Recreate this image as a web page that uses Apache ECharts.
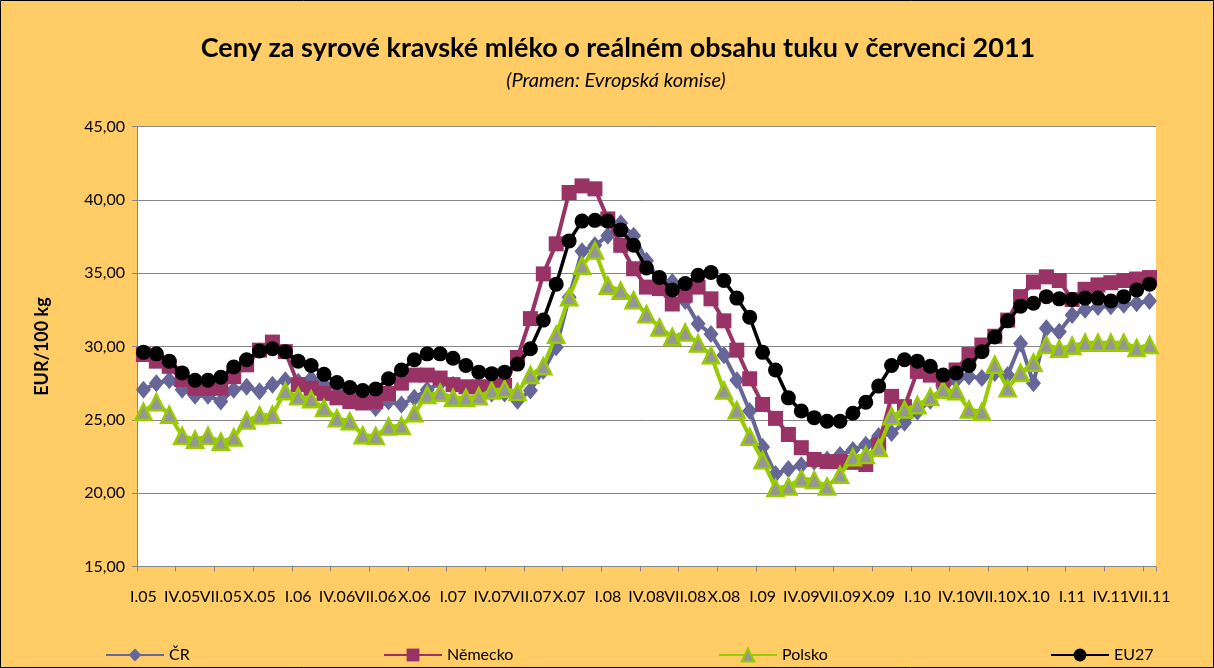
<!DOCTYPE html>
<html>
<head>
<meta charset="utf-8">
<script src="https://cdn.jsdelivr.net/npm/echarts@6/dist/echarts.min.js"></script>
<style>
html,body{margin:0;padding:0;background:#FFCC66;}
#c{width:1214px;height:668px;}
</style>
</head>
<body>
<div id="c"></div>
<script>
var MONTHS = ['I','II','III','IV','V','VI','VII','VIII','IX','X','XI','XII'];
var YEARS = ['05','06','07','08','09','10','11'];
var categories = [];
YEARS.forEach(function(y, yi){
  MONTHS.forEach(function(m, mi){
    if (yi < 6 || mi < 7) categories.push(m + '.' + y);
  });
});

var cr = [27.05,27.5,27.7,27.05,26.65,26.65,26.25,27.05,27.25,26.95,27.4,27.7,
27.6,27.8,27.4,27.25,26.8,26.35,25.8,26.25,26.05,26.5,27.05,27.5,
27.4,27.15,27.05,26.8,26.8,26.3,27.0,28.35,29.95,33.35,36.5,36.9,
37.55,38.4,37.55,35.85,34.5,34.4,33.1,31.55,30.85,29.4,27.7,25.6,
23.15,21.3,21.65,21.9,22.15,22.3,22.6,22.95,23.3,23.9,24.1,24.8,
25.55,26.3,27.15,27.7,27.95,27.85,28.2,28.05,30.2,27.5,31.25,31.0,
32.15,32.5,32.7,32.75,32.85,32.95,33.1];

var nemecko = [29.45,29.0,28.65,27.75,27.15,27.15,27.15,27.95,28.75,29.75,30.3,29.65,
27.4,27.15,26.8,26.5,26.25,26.15,26.25,26.8,27.5,28.05,28.05,27.85,
27.4,27.25,27.25,27.25,27.35,29.25,31.9,34.95,37.0,40.5,40.95,40.75,
38.7,36.9,35.3,34.05,33.95,32.9,33.5,34.05,33.25,31.75,29.75,27.8,
26.05,25.1,24.0,23.1,22.3,22.15,22.15,22.1,21.95,23.3,26.6,25.9,
28.3,28.05,27.75,28.4,29.45,30.1,30.7,31.8,33.4,34.4,34.75,34.5,
33.2,33.9,34.2,34.35,34.5,34.6,34.7];

var polsko = [25.55,26.2,25.35,23.9,23.65,23.9,23.5,23.8,24.95,25.3,25.35,26.95,
26.6,26.4,25.8,25.1,24.9,23.95,23.9,24.55,24.6,25.45,26.7,26.85,
26.5,26.5,26.6,27.0,27.1,26.9,28.05,28.65,30.8,33.35,35.5,36.55,
34.15,33.8,33.15,32.2,31.3,30.65,30.95,30.2,29.4,27.0,25.65,23.85,
22.25,20.35,20.45,21.0,20.9,20.45,21.25,22.45,22.6,23.1,25.25,25.7,
26.0,26.55,27.05,26.95,25.7,25.55,28.75,27.15,28.2,28.9,30.1,29.85,
30.05,30.25,30.25,30.25,30.25,29.9,30.1];

var eu27 = [29.6,29.5,29.0,28.2,27.7,27.7,27.9,28.6,29.1,29.7,29.85,29.65,
29.0,28.7,28.1,27.55,27.2,27.0,27.1,27.8,28.4,29.1,29.5,29.5,
29.2,28.7,28.25,28.15,28.25,28.8,29.85,31.8,34.25,37.2,38.55,38.6,
38.55,37.95,36.9,35.35,34.7,33.85,34.3,34.85,35.05,34.5,33.3,32.0,
29.6,28.4,26.5,25.6,25.15,24.9,24.9,25.45,26.2,27.3,28.7,29.1,
29.0,28.65,28.05,28.2,28.7,29.65,30.65,31.75,32.75,32.95,33.4,33.25,
33.2,33.3,33.3,33.1,33.4,33.85,34.25];

var seriesNames = ['ČR','Německo','Polsko','EU27'];

var FONT = 'Lato, "DejaVu Sans", sans-serif';
var LAST = categories.length - 1;
var chart = echarts.init(document.getElementById('c'), null, {renderer:'canvas'});

function legendAt(name, left){
  return {
    data:[name], left:left, top:642, itemWidth:58, itemHeight:16,
    textStyle:{fontFamily:FONT, fontSize:16, color:'#000'}, itemGap:4
  };
}
var labelStyle = {margin:22, fontFamily:FONT, fontSize:16, color:'#000', hideOverlap:false,
  showMaxLabel:true, showMinLabel:true};

chart.setOption({
  backgroundColor:'#FFCC66',
  animation:false,
  title:[
    {text:'Ceny za syrové kravské mléko o reálném obsahu tuku v červenci 2011',
     left:613, textAlign:'center', top:30,
     textStyle:{fontFamily:FONT, fontSize:27, fontWeight:'bold', color:'#000'}},
    {text:'(Pramen: Evropská komise)', left:611, textAlign:'center', top:66,
     textStyle:{fontFamily:FONT, fontSize:20, fontStyle:'italic', fontWeight:'normal', color:'#000'}}
  ],
  graphic:[{type:'rect', shape:{x:0.5,y:0.5,width:1213,height:667}, style:{fill:'none', stroke:'#000', lineWidth:1}, silent:true}],
  legend:[legendAt('ČR',100), legendAt('Německo',378), legendAt('Polsko',713), legendAt('EU27',1045)],
  grid:{left:137, right:58, top:126.5, bottom:101.5, show:true, backgroundColor:'#fff', borderWidth:0},
  xAxis:[{
    type:'category', data:categories, boundaryGap:true,
    axisLine:{lineStyle:{color:'#868686', width:1}},
    axisTick:{show:true, interval:2, length:5, lineStyle:{color:'#868686'}},
    axisLabel:Object.assign({interval:function(i){return i % 3 === 0 && i !== LAST;}}, labelStyle),
    splitLine:{show:false}
  },{
    type:'category', data:categories, boundaryGap:true, position:'bottom',
    axisLine:{show:false}, axisTick:{show:false}, splitLine:{show:false},
    axisLabel:Object.assign({interval:function(i){return i === LAST;}}, labelStyle)
  }],
  yAxis:{
    type:'value', min:15, max:45, interval:5,
    name:'EUR/100 kg', nameLocation:'middle', nameGap:86, nameRotate:90,
    nameTextStyle:{fontFamily:FONT, fontSize:18, fontWeight:'bold', color:'#000'},
    axisLine:{show:true, lineStyle:{color:'#868686'}},
    axisTick:{show:true, length:5, lineStyle:{color:'#868686'}},
    axisLabel:{fontFamily:FONT, fontSize:16, color:'#000', margin:12,
      formatter:function(v){return v.toFixed(2).replace('.',',');}},
    splitLine:{lineStyle:{color:'#868686', width:1}}
  },
  series:[
    {name:seriesNames[0], type:'line', data:cr, z:2, showAllSymbol:true,
     symbol:'diamond', symbolSize:[15,18],
     itemStyle:{color:'#666699'}, lineStyle:{color:'#666699', width:4}},
    {name:seriesNames[1], type:'line', data:nemecko, z:3, showAllSymbol:true,
     symbol:'rect', symbolSize:15,
     itemStyle:{color:'#993366'}, lineStyle:{color:'#993366', width:4}},
    {name:seriesNames[2], type:'line', data:polsko, z:4, showAllSymbol:true,
     symbol:'triangle', symbolSize:16,
     itemStyle:{color:'#969696', borderColor:'#99CC00', borderWidth:2.5}, lineStyle:{color:'#99CC00', width:4}},
    {name:seriesNames[3], type:'line', data:eu27, z:5, showAllSymbol:true,
     symbol:'circle', symbolSize:15,
     itemStyle:{color:'#000'}, lineStyle:{color:'#000', width:3.5}}
  ]
});
</script>
</body>
</html>
